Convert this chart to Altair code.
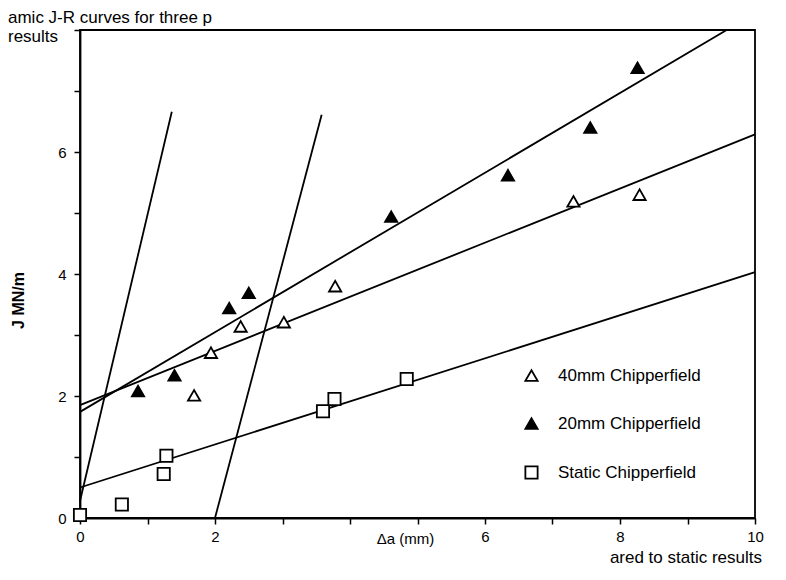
import altair as alt
import pandas as pd

FONT = "Liberation Sans"

# ---- data ----
series_names = ["40mm Chipperfield", "20mm Chipperfield", "Static Chipperfield"]

# 40 mm Chipperfield (open triangles)
da_40 = [1.69, 1.94, 2.38, 3.02, 3.78, 7.31, 8.29]
j_40 = [2.01, 2.71, 3.14, 3.21, 3.80, 5.19, 5.30]

# 20 mm Chipperfield (filled triangles)
da_20 = [0.86, 1.40, 2.21, 2.50, 4.61, 6.34, 7.56, 8.26]
j_20 = [2.08, 2.34, 3.44, 3.69, 4.94, 5.62, 6.40, 7.38]

# Static Chipperfield (open squares)
da_st = [0.0, 0.62, 1.24, 1.28, 3.60, 3.77, 4.84]
j_st = [0.05, 0.22, 0.72, 1.02, 1.75, 1.95, 2.28]

# straight lines (fits and blunting lines): start / end points
line_names = ["20mm fit", "40mm fit", "Static fit", "Blunting line", "Offset blunting line"]
line_x1 = [0.0, 0.0, 0.0, 0.0, 2.0]
line_y1 = [1.74, 1.85, 0.50, 0.28, 0.0]
line_x2 = [9.58, 10.0, 10.0, 1.36, 3.58]
line_y2 = [8.0, 6.29, 4.03, 6.66, 6.61]

x_ticks = list(range(0, 11))
y_ticks = list(range(0, 9))

caption_top = ["amic J-R curves for three p", "results"]
caption_bottom = ["ared to static results"]
x_title = "\u0394a   (mm)"
y_title = "J MN/m"

# ---- tables ----
pts = pd.DataFrame({
    "da": da_40 + da_20 + da_st,
    "J": j_40 + j_20 + j_st,
    "series": [series_names[0]] * len(da_40)
    + [series_names[1]] * len(da_20)
    + [series_names[2]] * len(da_st),
})
lines = pd.DataFrame({
    "name": line_names,
    "x1": line_x1,
    "y1": line_y1,
    "x2": line_x2,
    "y2": line_y2,
})

xs = alt.Scale(domain=[0, 10], nice=False, zero=False)
ys = alt.Scale(domain=[0, 8], nice=False, zero=False)

x_axis = alt.Axis(
    values=x_ticks, format="d",
    labelExpr="(datum.value % 2 == 0 && datum.value != 4) ? datum.label : ''",
    title=x_title,
    titleX=325, titleY=25, titleAlign="center", titleBaseline="alphabetic",
    titleFont=FONT, titleFontSize=15, titleFontWeight="normal", titleColor="black",
    labelFont=FONT, labelFontSize=15, labelColor="black", labelPadding=5,
    labelFlush=False, labelOverlap=False,
    tickSize=6, tickColor="black", tickWidth=1.5,
    domainColor="black", domainWidth=1.8, grid=False,
)
y_axis = alt.Axis(
    values=y_ticks, format="d",
    labelExpr="(datum.value % 2 == 0 && datum.value < 8) ? datum.label : ''",
    title=y_title,
    titleX=-62, titleY=270, titleAngle=-90, titleAlign="center", titleBaseline="middle",
    titleFont=FONT, titleFontSize=16, titleFontWeight="bold", titleColor="black",
    labelFont=FONT, labelFontSize=15, labelColor="black", labelPadding=8,
    labelFlush=False, labelOverlap=False,
    tickSize=6, tickColor="black", tickWidth=1.5,
    domainColor="black", domainWidth=1.8, grid=False,
)

rules = alt.Chart(lines).mark_rule(color="black", strokeWidth=1.8).encode(
    x=alt.X("x1:Q", scale=xs, axis=x_axis),
    y=alt.Y("y1:Q", scale=ys, axis=y_axis),
    x2="x2:Q",
    y2="y2:Q",
)

legend = alt.Legend(
    title=None, orient="none", legendX=443, legendY=337, direction="vertical",
    padding=0, rowPadding=29, labelOffset=18,
    labelFont=FONT, labelFontSize=17, labelColor="black",
    symbolSize=150, symbolStrokeColor="black", symbolStrokeWidth=1.8, symbolOpacity=1,
)

points = alt.Chart(pts).mark_point(
    filled=True, size=150, strokeWidth=1.8, opacity=1
).encode(
    x=alt.X("da:Q", scale=xs),
    y=alt.Y("J:Q", scale=ys),
    shape=alt.Shape("series:N", scale=alt.Scale(domain=series_names,
                    range=["triangle-up", "triangle-up", "square"]), legend=legend),
    fill=alt.Fill("series:N", scale=alt.Scale(domain=series_names,
                  range=["white", "black", "white"]), legend=legend),
    stroke=alt.Stroke("series:N", scale=alt.Scale(domain=series_names,
                      range=["black", "black", "black"]), legend=legend),
)

cap1 = alt.Chart(pd.DataFrame({"t": [caption_top[0]]})).mark_text(
    align="left", baseline="alphabetic", font=FONT, fontSize=17, color="black"
).encode(x=alt.value(-72), y=alt.value(-7), text="t:N")

cap2 = alt.Chart(pd.DataFrame({"t": [caption_top[1]]})).mark_text(
    align="left", baseline="alphabetic", font=FONT, fontSize=17, color="black"
).encode(x=alt.value(-72), y=alt.value(12), text="t:N")

cap3 = alt.Chart(pd.DataFrame({"t": caption_bottom})).mark_text(
    align="right", baseline="alphabetic", font=FONT, fontSize=17, color="black"
).encode(x=alt.value(682), y=alt.value(533), text="t:N")

chart = alt.layer(rules, points, cap1, cap2, cap3).properties(
    width=675,
    height=488,
    autosize=alt.AutoSizeParams(type="none"),
    padding={"left": 72, "top": 22, "right": 20, "bottom": 50},
    background="white",
).configure_view(stroke="black", strokeWidth=1.8)

chart.save("out.html", embed_options={"renderer": "svg", "actions": False})
